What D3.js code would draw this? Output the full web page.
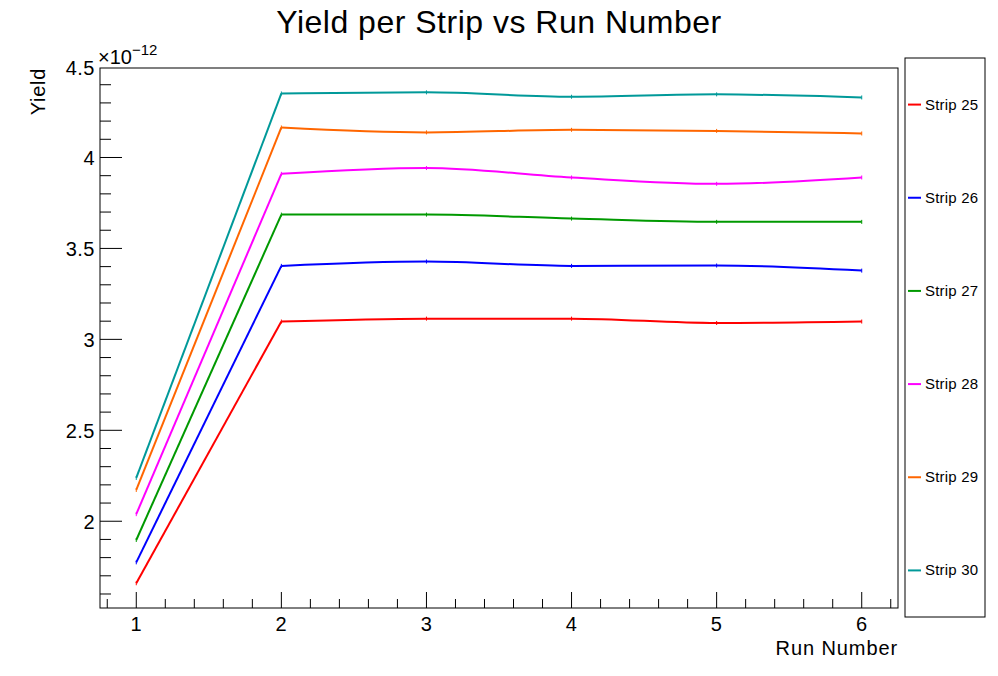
<!DOCTYPE html>
<html><head><meta charset="utf-8">
<script src="https://cdn.jsdelivr.net/npm/d3@7"></script>
<style>body{margin:0;background:#fff}svg{display:block}text{font-family:"Liberation Sans",Arial,sans-serif}</style>
</head><body><svg id="c" width="998" height="676"></svg>
<script>
const runs = [1, 2, 3, 4, 5, 6];
const seriesNames = ["Strip 25", "Strip 26", "Strip 27", "Strip 28", "Strip 29", "Strip 30"];
const strip25 = [1.659, 3.098, 3.114, 3.114, 3.090, 3.098];
const strip26 = [1.774, 3.404, 3.428, 3.404, 3.406, 3.378];
const strip27 = [1.897, 3.686, 3.686, 3.664, 3.646, 3.646];
const strip28 = [2.039, 3.910, 3.942, 3.890, 3.855, 3.890];
const strip29 = [2.172, 4.165, 4.138, 4.152, 4.146, 4.132];
const strip30 = [2.238, 4.352, 4.358, 4.334, 4.347, 4.330];
const colors = ["#ff0000", "#0000ff", "#009900", "#ff00ff", "#ff6600", "#009999"];
const yTickLabels = ["2", "2.5", "3", "3.5", "4", "4.5"];
const xTickLabels = ["1", "2", "3", "4", "5", "6"];

const allSeries = [strip25, strip26, strip27, strip28, strip29, strip30];
const svg = d3.select("#c");
const L = 100, R = 898, T = 68, B = 608;
const x = d3.scaleLinear().domain([0.75, 6.25]).range([L, R]);
const y = d3.scaleLinear().domain([1.523, 4.492]).range([B, T]);

// title
svg.append("text").attr("x", 499).attr("y", 33).attr("text-anchor", "middle")
  .attr("font-size", 32).attr("letter-spacing", 0.5).text("Yield per Strip vs Run Number");

// frame
svg.append("rect").attr("x", L).attr("y", T).attr("width", R - L).attr("height", B - T)
  .attr("fill", "none").attr("stroke", "#000").attr("stroke-width", 1);

// x ticks
const xMinor = d3.range(0.8, 6.25, 0.2).map(v => +v.toFixed(2));
svg.append("g").selectAll("line").data(xMinor).join("line")
  .attr("x1", d => x(d)).attr("x2", d => x(d))
  .attr("y1", B).attr("y2", d => Math.abs(d - Math.round(d)) < 1e-6 ? B - 16 : B - 9)
  .attr("stroke", "#000");
svg.append("g").selectAll("text").data(xTickLabels).join("text")
  .attr("x", d => x(+d)).attr("y", 631).attr("text-anchor", "middle")
  .attr("font-size", 20).attr("letter-spacing", 0.5).text(d => d);

// y ticks
const yMinor = d3.range(1.6, 4.5, 0.1).map(v => +v.toFixed(2));
svg.append("g").selectAll("line").data(yMinor).join("line")
  .attr("x1", L).attr("x2", d => Math.abs(d * 2 - Math.round(d * 2)) < 1e-6 ? L + 22 : L + 11)
  .attr("y1", d => y(d)).attr("y2", d => y(d))
  .attr("stroke", "#000");
svg.append("g").selectAll("text").data(yTickLabels).join("text")
  .attr("x", 95).attr("y", d => y(+d) + 8).attr("text-anchor", "end")
  .attr("font-size", 20).attr("letter-spacing", 0.5).text(d => d);

// exponent label
const ex = svg.append("text").attr("x", 98).attr("y", 64).attr("font-size", 20);
ex.append("tspan").text("\u00d710");
ex.append("tspan").attr("dy", -9).attr("font-size", 15).text("\u221212");

// axis titles
svg.append("text").attr("x", 898).attr("y", 655).attr("text-anchor", "end")
  .attr("font-size", 20).attr("letter-spacing", 0.9).text("Run Number");
svg.append("text").attr("transform", "translate(45,68) rotate(-90)").attr("text-anchor", "end")
  .attr("font-size", 20).attr("letter-spacing", 0.7).text("Yield");

// lines: straight rise from run 1 to 2, smooth curve over runs 2-6
const smooth = d3.line().x(d => x(d[0])).y(d => y(d[1])).curve(d3.curveMonotoneX);
const straight = d3.line().x(d => x(d[0])).y(d => y(d[1]));
const g = svg.append("g");
allSeries.forEach((s, k) => {
  const pts = s.map((v, i) => [runs[i], v]);
  g.append("path").attr("d", straight(pts.slice(0, 2))).attr("fill", "none")
    .attr("stroke", colors[k]).attr("stroke-width", 2);
  g.append("path").attr("d", smooth(pts.slice(1))).attr("fill", "none")
    .attr("stroke", colors[k]).attr("stroke-width", 2);
  g.selectAll(null).data(pts).join("line")
    .attr("x1", d => x(d[0])).attr("x2", d => x(d[0]))
    .attr("y1", d => y(d[1]) - 2).attr("y2", d => y(d[1]) + 2)
    .attr("stroke", colors[k]).attr("stroke-width", 1);
});

// legend
svg.append("rect").attr("x", 905).attr("y", 58).attr("width", 80).attr("height", 559)
  .attr("fill", "#fff").attr("stroke", "#000");
const ly = d3.scaleBand().domain(seriesNames).range([58, 617]);
seriesNames.forEach((n, k) => {
  const cy = ly(n) + ly.bandwidth() / 2;
  svg.append("line").attr("x1", 908).attr("x2", 921).attr("y1", cy).attr("y2", cy)
    .attr("stroke", colors[k]).attr("stroke-width", 2);
  svg.append("text").attr("x", 925).attr("y", cy + 5).attr("font-size", 15)
    .attr("letter-spacing", 0.2).text(n);
});
</script></body></html>
